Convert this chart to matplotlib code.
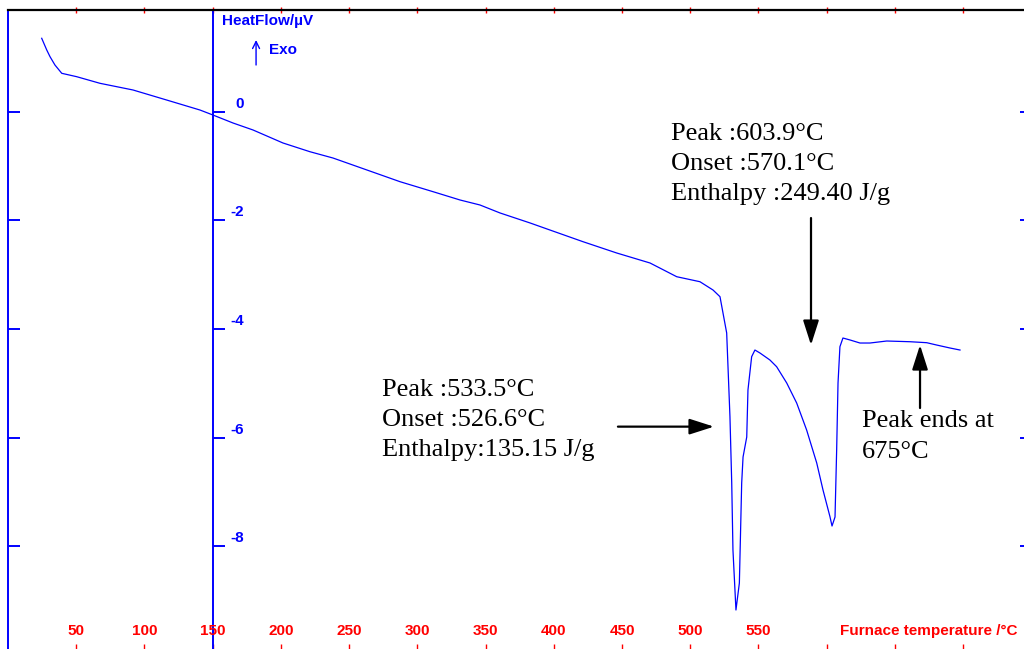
import matplotlib
matplotlib.use("Agg")
import matplotlib.pyplot as plt

# DSC heat-flow trace (furnace temperature in °C, heat flow in µV)
temperature = [24.7, 28.4, 30.8, 34.4, 39.4, 50.3, 67.4, 91.6, 116.3, 140.7, 150.2, 164.9,
               179.6, 201.5, 221.3, 238.2, 263.1, 287.3, 311.5, 331.3, 345.9, 360.6,
               382.6, 397.2, 421.4, 446.1, 470.5, 490.1, 507.1, 516.7, 521.8, 524.0,
               526.7, 529.1, 530.4, 531.3, 533.5, 536.0, 537.7, 538.7, 541.4, 542.3,
               545.0, 547.4, 551.1, 558.4, 563.3, 570.7, 578.0, 585.3, 592.7, 597.3,
               602.4, 603.9, 606.1, 607.3, 608.3, 609.7, 611.9, 617.1, 624.4, 631.7,
               644.0, 661.0, 673.3, 680.6, 690.4, 697.7]
heat_flow = [1.352, 1.136, 1.013, 0.860, 0.707, 0.645, 0.523, 0.400, 0.215, 0.031, -0.061, -0.208,
             -0.337, -0.576, -0.737, -0.853, -1.074, -1.289, -1.473, -1.626, -1.718, -1.865,
             -2.049, -2.179, -2.394, -2.602, -2.786, -3.039, -3.131, -3.284, -3.407, -3.707,
             -4.075, -5.617, -6.838, -8.072, -9.177, -8.680, -6.838, -6.359, -5.991, -5.125,
             -4.512, -4.389, -4.444, -4.573, -4.696, -4.996, -5.365, -5.862, -6.470, -6.967,
             -7.459, -7.630, -7.464, -6.230, -4.996, -4.328, -4.168, -4.204, -4.260, -4.260,
             -4.223, -4.236, -4.254, -4.297, -4.352, -4.389]

x_ticks = [50, 100, 150, 200, 250, 300, 350, 400, 450, 500, 550, 600, 650, 700]
x_tick_labels = ["50", "100", "150", "200", "250", "300", "350", "400", "450", "500", "550",
                 "", "", ""]
y_ticks = [0, -2, -4, -6, -8]
y_tick_labels = ["0", "-2", "-4", "-6", "-8"]

peak1_lines = ["Peak :533.5°C", "Onset :526.6°C", "Enthalpy:135.15 J/g"]
peak2_lines = ["Peak :603.9°C", "Onset :570.1°C", "Enthalpy :249.40 J/g"]
end_lines = ["Peak ends at", "675°C"]

BLUE = "#0000ff"
RED = "#ff0000"
SANS = "Liberation Sans"
SERIF = "Liberation Serif"
LABEL_SIZE = 11
NOTE_SIZE = 19

fig = plt.figure(figsize=(10.24, 6.49), dpi=100)
ax = fig.add_axes([8 / 1024, 0, 1016 / 1024, 639 / 649])
ax.set_xlim(0, 744.6)
ax.set_ylim(-9.895, 1.873)

ax.plot(temperature, heat_flow, color=BLUE, lw=0.9)

# frame: black top line, blue left edge, nothing at bottom/right
ax.spines["top"].set_color("black")
ax.spines["top"].set_linewidth(1.6)
ax.spines["left"].set_color(BLUE)
ax.spines["left"].set_linewidth(1.4)
ax.spines["right"].set_visible(False)
ax.spines["bottom"].set_visible(False)

# y ticks on left edge
ax.set_yticks(y_ticks)
ax.tick_params(axis="y", which="both", direction="in", length=8.5, width=1.4,
               color=BLUE, labelleft=False, right=False)
# x ticks at the bottom (labels drawn inside the frame below)
ax.set_xticks(x_ticks)
ax.tick_params(axis="x", direction="in", length=3.6, width=1.0, color=RED,
               labelbottom=False, top=False)

# red ticks across the top line
top = ax.secondary_xaxis("top")
top.set_xticks(x_ticks)
top.tick_params(direction="inout", length=5, width=1.0, color=RED, labeltop=False)
top.spines["top"].set_visible(False)

# short ticks on the right edge
right = ax.secondary_yaxis("right")
right.set_yticks(y_ticks)
right.tick_params(direction="in", length=3, width=1.4, color=BLUE, labelright=False)
right.spines["right"].set_visible(False)

# heat-flow axis at 150 °C
ax.axvline(150, color=BLUE, lw=1.4)
for v, lab in zip(y_ticks, y_tick_labels):
    ax.plot([150, 150 + 12 / 1.3645], [v, v], color=BLUE, lw=1.4, solid_capstyle="butt")
    ax.annotate(lab, xy=(150, v), xytext=(31, 8), textcoords="offset pixels",
                ha="right", va="center", color=BLUE, fontsize=LABEL_SIZE,
                fontweight="bold", family=SANS)

# x tick labels sitting just above the bottom edge
xform = ax.get_xaxis_transform()
for t, lab in zip(x_ticks, x_tick_labels):
    if lab:
        ax.text(t, 0.0275, lab, transform=xform, ha="center", va="center",
                color=RED, fontsize=LABEL_SIZE, fontweight="bold", family=SANS)
ax.text(609.7, 0.0275, "Furnace temperature /°C", transform=xform, ha="left",
        va="center", color=RED, fontsize=LABEL_SIZE, fontweight="bold", family=SANS)

# axis title and exo direction
ax.text(156.8, 1.597, "HeatFlow/µV", color=BLUE, fontsize=LABEL_SIZE, fontweight="bold",
        family=SANS, ha="left", va="baseline")
ax.annotate("", xy=(181.8, 1.32), xytext=(181.8, 0.86),
            arrowprops=dict(arrowstyle="->,head_length=0.5,head_width=0.25",
                            color=BLUE, lw=1.0, shrinkA=0, shrinkB=0))
ax.text(191.5, 1.063, "Exo", color=BLUE, fontsize=LABEL_SIZE, fontweight="bold",
        family=SANS, ha="left", va="baseline")

# peak annotations
def text_block(x, baselines, lines):
    for y, s in zip(baselines, lines):
        ax.text(x, y, s, color="black", fontsize=NOTE_SIZE, family=SERIF,
                ha="left", va="baseline")

text_block(274.1, [-5.243, -5.796, -6.348], peak1_lines)
text_block(485.9, [-0.521, -1.074, -1.626], peak2_lines)
text_block(625.6, [-5.801, -6.378], end_lines)

arrow = dict(arrowstyle="-|>,head_length=1.0,head_width=0.32", color="black",
             lw=1.6, shrinkA=0, shrinkB=0, mutation_scale=15)
ax.annotate("", xy=(517.4, -5.80), xytext=(447.0, -5.80), arrowprops=arrow)
ax.annotate("", xy=(588.5, -4.297), xytext=(588.5, -1.958), arrowprops=arrow)
ax.annotate("", xy=(668.4, -4.297), xytext=(668.4, -5.457), arrowprops=arrow)

fig.savefig("out.png", dpi=100)
